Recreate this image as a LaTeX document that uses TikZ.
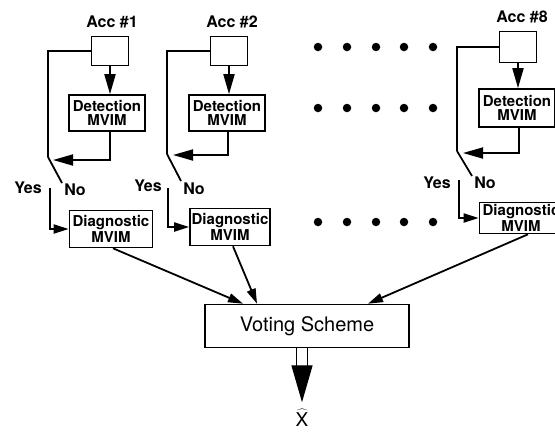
\documentclass[tikz,border=0pt]{standalone}
\usepackage{fontspec}
\setmainfont{TeX Gyre Heros}
\usetikzlibrary{arrows.meta,positioning}
\tikzstyle{accbox} = [rectangle, draw, line width=1.6pt, minimum width=37pt,
    minimum height=29pt, inner sep=0pt]
\tikzstyle{mvim} = [rectangle, draw, line width=1.6pt, minimum width=76pt,
    minimum height=36pt, inner sep=0pt, align=center,
    font=\fontsize{15}{14}\selectfont\bfseries]
\tikzstyle{vote} = [rectangle, draw, line width=1.6pt, minimum width=204pt,
    minimum height=43pt, font=\fontsize{20}{22}\selectfont]
\tikzstyle{lbl} = [inner sep=0pt, font=\fontsize{16}{17}\selectfont\bfseries]
\tikzstyle{dot} = [circle, fill, inner sep=0pt, minimum size=8.5pt]
\tikzstyle{wire} = [line width=1.8pt]
\tikzstyle{feed} = [wire, -{Triangle[length=20pt,width=11pt]}]
\tikzstyle{into} = [wire, -{Triangle[length=15pt,width=9pt]}]

\begin{document}
\begin{tikzpicture}[x=1pt,y=-1pt]
  \clip (0,0) rectangle (555,432);
  % Place nodes: Acc #1
  \node [accbox] (acc1) at (110,51) {};
  \node [lbl] (name1) at (112,22) {Acc \#1};
  \node [mvim] (det1) at (107,113) {Detection\\MVIM};
  \node [mvim, minimum width=83pt, minimum height=37pt] (diag1) at (111,229) {Diagnostic\\MVIM};
  \node [lbl] (yes1) at (28,188) {Yes};
  \node [lbl] (no1) at (75,190) {No};
  \coordinate (piv1) at (48,157);
  \coordinate (blade1) at (62,183);
  \coordinate (cont1) at (50,188);
  \coordinate (tip1) at (53,160);
  % Place nodes: Acc #2
  \node [accbox] (acc2) at (229,51) {};
  \node [lbl] (name2) at (232,22) {Acc \#2};
  \node [mvim] (det2) at (227,113) {Detection\\MVIM};
  \node [mvim, minimum width=80pt, minimum height=37pt] (diag2) at (230,227) {Diagnostic\\MVIM};
  \node [lbl] (yes2) at (148,186) {Yes};
  \node [lbl] (no2) at (194,189) {No};
  \coordinate (piv2) at (167,154);
  \coordinate (blade2) at (181,181);
  \coordinate (cont2) at (168,188);
  \coordinate (tip2) at (173,155);
  % Place nodes: Acc #8
  \node [accbox, minimum height=31pt] (acc8) at (518,47) {};
  \node [lbl] (name8) at (522,17) {Acc \#8};
  \node [mvim, minimum height=38pt] (det8) at (517,108) {Detection\\MVIM};
  \node [mvim, minimum width=83pt, minimum height=31pt] (diag8) at (521,218) {Diagnostic\\MVIM};
  \node [lbl] (yes8) at (437,183) {Yes};
  \node [lbl] (no8) at (485,183) {No};
  \coordinate (piv8) at (457,151);
  \coordinate (blade8) at (472,176);
  \coordinate (cont8) at (459,180);
  \coordinate (tip8) at (463,153);
  % Place dots
  \node [dot] (d11) at (318,47) {}; \node [dot] (d12) at (347,47) {}; \node [dot] (d13) at (376,47) {};
  \node [dot] (d14) at (404,47) {}; \node [dot] (d15) at (433,47) {};
  \node [dot] (d21) at (318,108) {}; \node [dot] (d22) at (347,108) {}; \node [dot] (d23) at (376,108) {};
  \node [dot] (d24) at (404,108) {}; \node [dot] (d25) at (433,108) {};
  \node [dot] (d31) at (318,222) {}; \node [dot] (d32) at (347,222) {}; \node [dot] (d33) at (376,222) {};
  \node [dot] (d34) at (404,222) {}; \node [dot] (d35) at (433,222) {};
  % Place voting
  \node [vote] (vote) at (307,326) {Voting Scheme};
  \node [inner sep=0pt, font=\fontsize{19}{19}\selectfont] (xhat) at (302,418) {$\widehat{\textrm{X}}$};
  % Draw edges
  \draw [feed] (acc1.south) -- (acc1.south |- det1.north);
  \draw [wire] (acc1.west) -| (piv1);
  \draw [feed] (det1.south -| acc1) |- (tip1);
  \draw [wire] (piv1) -- (blade1);
  \draw [into] (cont1) |- (diag1.west);
  \draw [feed] (acc2.south) -- (acc2.south |- det2.north);
  \draw [wire] (acc2.west) -| (piv2);
  \draw [feed] ([xshift=1pt]det2.south) |- (tip2);
  \draw [wire] (piv2) -- (blade2);
  \draw [into] (cont2) |- (diag2.west);
  \draw [feed] (acc8.south) -- (acc8.south |- det8.north);
  \draw [wire] (acc8.west) -| (piv8);
  \draw [feed] ([xshift=2pt]det8.south) |- (tip8);
  \draw [wire] (piv8) -- (blade8);
  \draw [into] (cont8) |- (diag8.west);
  % Into the voting scheme
  \draw [into] ([xshift=2pt]diag1.south) -- ([xshift=-64pt]vote.north);
  \draw [into] ([xshift=3pt]diag2.south) -- ([xshift=-50pt]vote.north);
  \draw [into] ([xshift=7pt]diag8.south) -- ([xshift=61pt]vote.north);
  \draw [line width=1.4pt, double distance=10pt, -{Triangle[length=37pt,width=21pt]},
    shorten >=7pt] ([xshift=-5pt]vote.south) -- (xhat.north);
\end{tikzpicture}
\end{document}
